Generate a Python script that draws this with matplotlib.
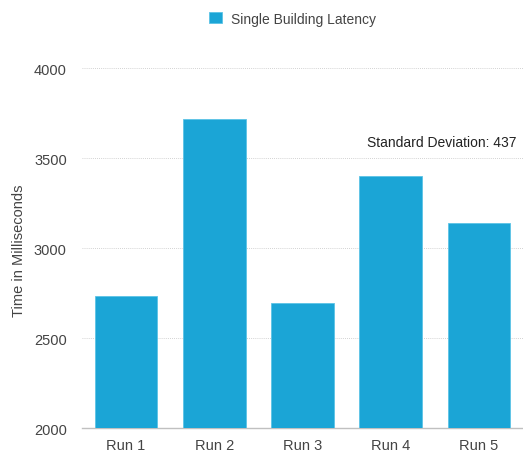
import matplotlib.pyplot as plt
import numpy as np

plt.rcParams['font.family'] = ['Liberation Sans', 'DejaVu Sans']

# values
runs = ['Run 1', 'Run 2', 'Run 3', 'Run 4', 'Run 5']
latency_ms = [2733, 3718, 2696, 3402, 3139]
y_ticks = [2000, 2500, 3000, 3500, 4000]

bar_color = '#1ba5d6'
std_dev = np.std(latency_ms, ddof=1)

fig = plt.figure(figsize=(5.23, 4.52), dpi=100)
ax = fig.add_axes([82 / 523, 22.7 / 452, 441 / 523, 360 / 452])

x_axis = np.arange(len(runs))
ax.bar(x_axis, latency_ms, 0.71, color=bar_color, edgecolor='#5cc3e6',
       linewidth=0.6, label='Single Building Latency', zorder=3)

ax.set_xlim(-0.5, len(runs) - 0.5)
ax.set_ylim(2000, 4000)
ax.set_yticks(y_ticks)
ax.set_xticks(x_axis, runs)

for t in y_ticks[1:]:
    ax.axhline(t, color='#c4c4c4', linestyle=(0, (1, 1.5)), linewidth=0.6, zorder=1)

for side in ['top', 'right', 'left']:
    ax.spines[side].set_visible(False)
ax.spines['bottom'].set_color('#c0c0c0')
ax.spines['bottom'].set_linewidth(1.0)

ax.tick_params(axis='both', length=0, labelsize=10.5, labelcolor='#444444')
ax.tick_params(axis='y', pad=11)
ax.tick_params(axis='x', pad=7)

ax.set_ylabel('Time in Milliseconds', fontsize=10.5, color='#444444')
ax.yaxis.set_label_coords(-0.128, 0.495)

ax.text(0.985, 0.795, 'Standard Deviation: %d' % round(std_dev),
        transform=ax.transAxes, ha='right', va='center', fontsize=10, color='#222222')

fig.legend(loc='upper center', bbox_to_anchor=(0.56, 1.0), frameon=False,
           fontsize=10, handlelength=0.9, handleheight=0.9, handletextpad=0.7,
           labelcolor='#444444')

fig.savefig('out.png', dpi=100)
